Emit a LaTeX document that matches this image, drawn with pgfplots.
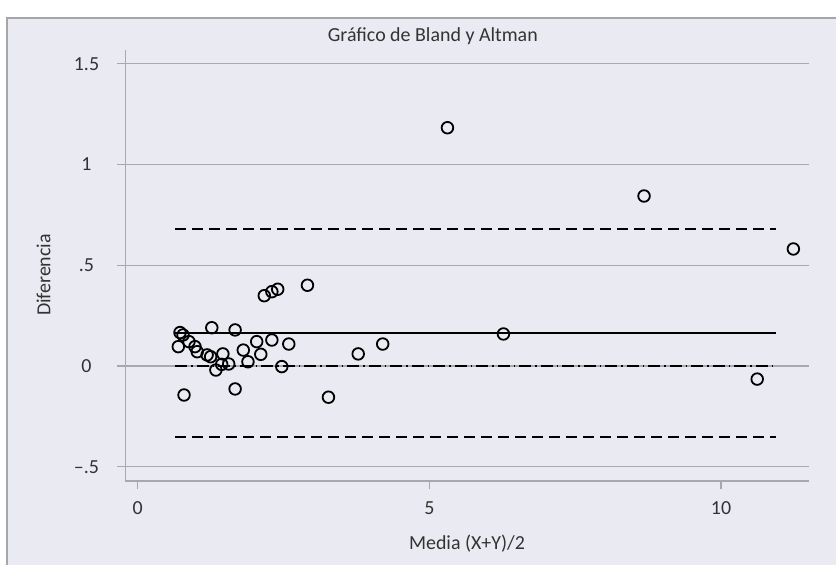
\documentclass[border=0pt]{standalone}
\usepackage{fontspec}
\setmainfont{Carlito}
\usepackage{pgfplots}
\usepackage{pgfplotstable}
\pgfplotsset{compat=1.18}
\definecolor{bgc}{RGB}{234,234,242}
\definecolor{gridc}{RGB}{168,168,174}
\definecolor{framec}{RGB}{165,165,170}

\pgfplotstableread{
x y
0.725 0.166
0.777 0.154
0.696 0.096
0.794 -0.144
0.879 0.121
0.982 0.096
1.02 0.071
1.19 0.055
1.25 0.046
1.27 0.190
1.34 -0.020
1.46 0.060
1.44 0.008
1.56 0.010
1.67 0.179
1.67 -0.114
1.81 0.079
1.89 0.021
2.04 0.121
2.11 0.058
2.17 0.349
2.30 0.369
2.40 0.381
2.30 0.129
2.47 -0.003
2.59 0.109
2.91 0.401
3.27 -0.155
3.78 0.060
4.20 0.109
5.31 1.183
6.27 0.159
8.68 0.844
10.62 -0.065
11.24 0.581
}\points

\begin{document}
\begin{tikzpicture}[x=1bp,y=1bp]
\clip (0,0) rectangle (836,565);
\fill[white] (0,0) rectangle (836,565);
\filldraw[fill=bgc, draw=framec, line width=1.5bp] (7,-20) rectangle (870,547);
\begin{axis}[
  at={(125.3bp,84bp)}, anchor=south west,
  scale only axis, width=683.4bp, height=431bp,
  xmin=-0.2126, xmax=11.503, ymin=-0.571, ymax=1.569,
  axis x line*=bottom, axis y line*=left,
  axis line style={draw=gridc, line width=1.2bp, -},
  xtick={0,5,10}, xticklabels={0,5,10},
  ytick={-0.5,0,0.5,1,1.5}, yticklabels={–.5,0,.5,1,1.5},
  tick align=outside, major tick length=8bp,
  tick style={draw=gridc, line width=1.2bp},
  ymajorgrids, grid style={draw=gridc, line width=1.2bp},
  ticklabel style={font=\fontsize{20}{24}\selectfont, text=black!80},
  yticklabel style={anchor=center, xshift=-30.8bp},
  xticklabel style={anchor=center, yshift=-19bp},
  title={Gráfico de Bland y Altman},
  title style={at={(axis description cs:0.45,1)}, anchor=center, yshift=8bp, font=\fontsize{20}{24}\selectfont, text=black!80},
  xlabel={Media (X+Y)/2},
  xlabel style={at={(axis description cs:0.5,0)}, anchor=center, yshift=-63bp, font=\fontsize{20}{24}\selectfont, text=black!80},
  ylabel={Diferencia},
  ylabel style={at={(axis description cs:0,0.478)}, anchor=center, yshift=81.8bp, font=\fontsize{20}{24}\selectfont, text=black!80},
  clip=false,
]
\addplot[black, line width=1.8bp, dash pattern=on 11bp off 6bp] coordinates {(0.64,0.682) (10.95,0.682)};
\addplot[black, line width=1.8bp, dash pattern=on 11bp off 6bp] coordinates {(0.64,-0.354) (10.95,-0.354)};
\addplot[black, line width=1.8bp, dash pattern=on 12bp off 4bp on 1.5bp off 4bp] coordinates {(0.64,0) (10.95,0)};
\addplot[black, line width=1.8bp] coordinates {(0.64,0.164) (10.95,0.164)};
\addplot[only marks, mark=o, mark size=5.8bp, mark options={line width=1.8bp, draw=black}] table[x=x,y=y] {\points};
\end{axis}
\end{tikzpicture}
\end{document}
